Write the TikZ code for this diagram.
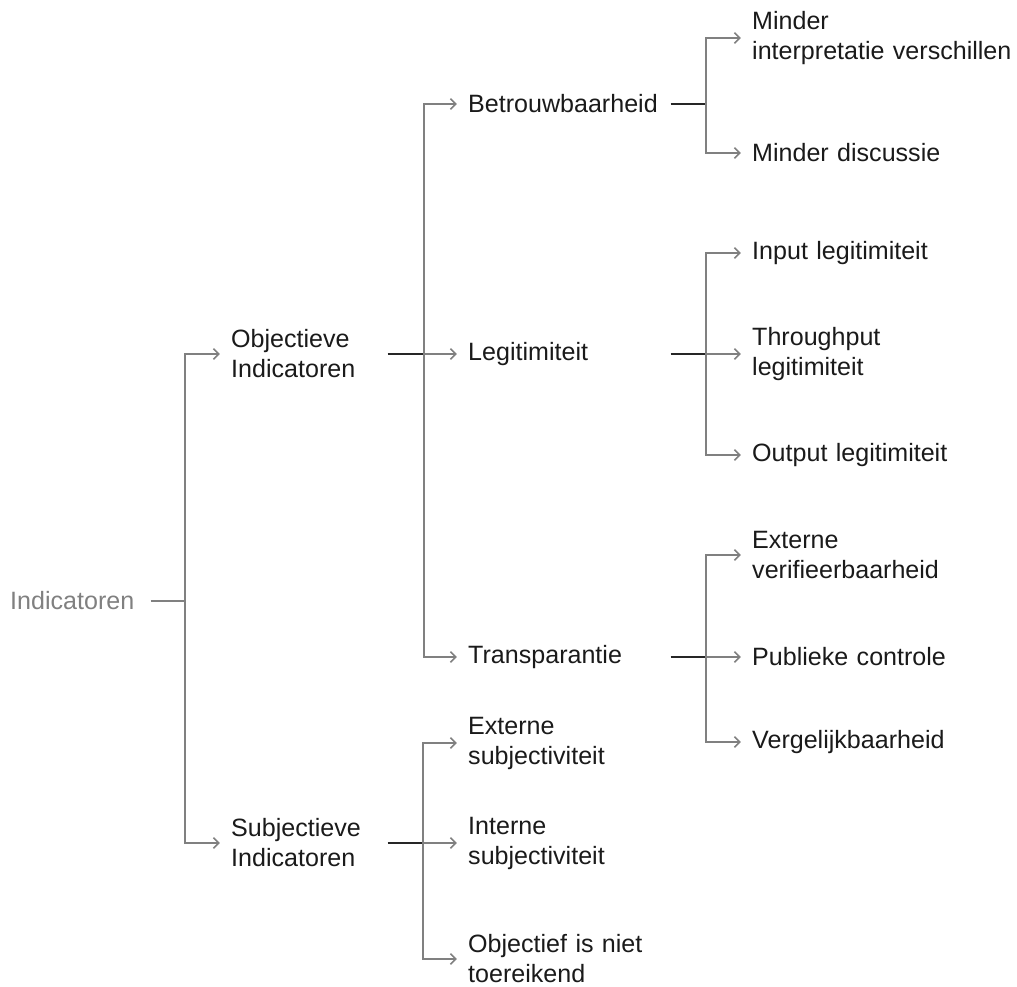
\documentclass[tikz,border=0pt]{standalone}
\usepackage{fontspec}
\setmainfont{Liberation Sans}
\usetikzlibrary{arrows.meta, positioning}
\definecolor{treegray}{HTML}{808080}
\definecolor{treetext}{HTML}{1A1A1A}
\tikzset{
  tree/.style={
	x=0.75pt, y=-0.75pt, % one unit is one pixel, y runs downwards
	every node/.style={font=\fontsize{18.8}{22.5}\selectfont, text=treetext, align=left, anchor=west, inner xsep=5pt, inner ysep=2pt},
  },
  root/.style={text=treegray, text width=100pt}, % the left label
  lvlone/.style={text width=112pt},
  lvltwo/.style={text width=146.5pt},
  lvlthree/.style={text width=200pt},
  rootstub/.style={draw=treegray, line width=1.1pt},
  stub/.style={draw=black!85, line width=1.1pt}, % from a node to its junction
  branch/.style={-{Straight Barb[length=4pt,width=8pt]}, draw=treegray, line width=1.1pt, shorten >=3.4pt}, % junction to child
}
\begin{document}
\begin{tikzpicture}[tree]
	\useasboundingbox (0,0) rectangle (1017,987);

	\node[root] (ind) at (3.3,601) {Indicatoren};

	\node[lvlone] (obj) at (224.3,354) {Objectieve\\Indicatoren};
	\node[lvlone] (sub) at (224.3,843) {Subjectieve\\Indicatoren};

	\node[lvltwo] (bet) at (461.3,104) {Betrouwbaarheid};
	\node[lvltwo] (leg) at (461.3,354) {Legitimiteit};
	\node[lvltwo] (tra) at (461.3,657) {Transparantie};
	\node[lvltwo] (ext) at (461.3,743) {Externe\\subjectiviteit};
	\node[lvltwo] (int) at (461.3,843) {Interne\\subjectiviteit};
	\node[lvltwo] (obt) at (461.3,959) {Objectief is niet\\toereikend};

	\node[lvlthree] (min) at (745.3,38) {Minder\\interpretatie verschillen};
	\node[lvlthree] (dis) at (745.3,153) {Minder discussie};
	\node[lvlthree] (inp) at (745.3,253) {Input legitimiteit};
	\node[lvlthree] (thr) at (745.3,354) {Throughput\\legitimiteit};
	\node[lvlthree] (out) at (745.3,455) {Output legitimiteit};
	\node[lvlthree] (ver) at (745.3,555) {Externe\\verifieerbaarheid};
	\node[lvlthree] (pub) at (745.3,657) {Publieke controle};
	\node[lvlthree] (vgl) at (745.3,742) {Vergelijkbaarheid};

	% junctions
	\coordinate (jind) at (185,601);
	\coordinate (jobj) at (424,354);
	\coordinate (jsub) at (423,843);
	\coordinate (jbet) at (706,104);
	\coordinate (jleg) at (706,354);
	\coordinate (jtra) at (706,657);

	\draw[rootstub] (ind.east) -- (jind);
	\draw[stub] (obj.east) -- (jobj);
	\draw[stub] (sub.east) -- (jsub);
	\draw[stub] (bet.east) -- (jbet);
	\draw[stub] (leg.east) -- (jleg);
	\draw[stub] (tra.east) -- (jtra);

	\foreach \j/\c in {jind/obj, jind/sub, jobj/bet, jobj/leg, jobj/tra, jsub/ext, jsub/int, jsub/obt, jbet/min, jbet/dis, jleg/inp, jleg/thr, jleg/out, jtra/ver, jtra/pub, jtra/vgl}
		\draw[branch] (\j) |- (\c.west);
\end{tikzpicture}
\end{document}
